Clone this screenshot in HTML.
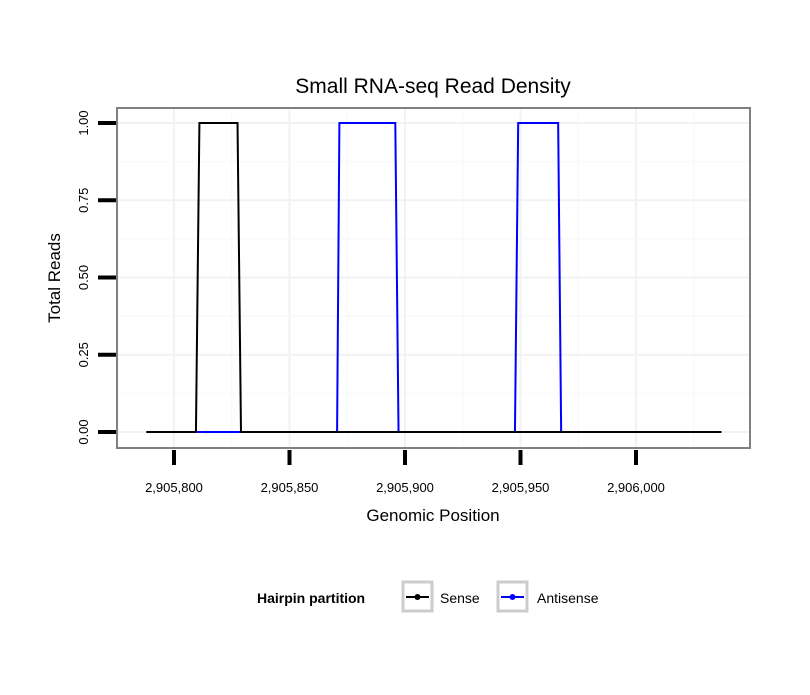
<!DOCTYPE html>
<html><head><meta charset="utf-8"><style>
body{margin:0;background:#fff;}
svg text{font-family:"Liberation Sans",sans-serif;}
</style></head><body>
<svg width="810" height="690" xmlns="http://www.w3.org/2000/svg">
<rect width="810" height="690" fill="#fff"/>
<text x="433" y="93" font-size="21" text-anchor="middle">Small RNA-seq Read Density</text>
<g id="grid"></g>
<g id="series"></g>
<rect x="117" y="108" width="633" height="340" fill="none" stroke="#808080" stroke-width="2"/>
<g id="axes"></g>
<text x="433" y="521" font-size="17" text-anchor="middle">Genomic Position</text>
<text transform="translate(60,278) rotate(-90)" font-size="17" text-anchor="middle">Total Reads</text>
<g>
<text x="257" y="603" font-size="14" font-weight="bold">Hairpin partition</text>
<g>
<rect x="403" y="582" width="29" height="29" fill="#fff" stroke="#ccc" stroke-width="3"/>
<line x1="406" y1="597" x2="429" y2="597" stroke="#000" stroke-width="2"/><circle cx="417.5" cy="597" r="3" fill="#000"/>
<text x="440" y="603" font-size="14">Sense</text></g>
<g>
<rect x="498" y="582" width="29" height="29" fill="#fff" stroke="#ccc" stroke-width="3"/>
<line x1="501" y1="597" x2="524" y2="597" stroke="#00f" stroke-width="2"/><circle cx="512.5" cy="597" r="3" fill="#00f"/>
<text x="537" y="603" font-size="14">Antisense</text></g>
</g>
</svg>
<script>
const senseX=[2905788,2905809.5,2905811,2905827.5,2905829,2906037];
const senseY=[0,0,1,1,0,0];
const antiX=[2905810,2905870.6,2905871.6,2905895.8,2905897.2,2905947.6,2905949,2905966.3,2905967.6,2905990];
const antiY=[0,0,1,1,0,0,1,1,0,0];
const xTicks=[2905800,2905850,2905900,2905950,2906000];
const xTickLabels=["2,905,800","2,905,850","2,905,900","2,905,950","2,906,000"];
const yTicks=[0,0.25,0.5,0.75,1];
const yTickLabels=["0.00","0.25","0.50","0.75","1.00"];
const NS="http://www.w3.org/2000/svg";
const xs=v=>174+(v-2905800)*115.5/50;
const ys=v=>432-v*309;
function mk(t,a,p){const e=document.createElementNS(NS,t);for(const k in a)e.setAttribute(k,a[k]);p.appendChild(e);return e;}
const grid=document.getElementById('grid'),axes=document.getElementById('axes'),ser=document.getElementById('series');
for(let i=-0.5;i<=5;i+=0.5){const x=xs(2905800+i*50);if(x<118||x>749)continue;
 const l=mk('line',{x1:x,x2:x,y1:109,y2:447,stroke:i%1?'#f8f8f8':'#f2f2f2','stroke-width':i%1?1:2},grid);
 
 }
for(let i=-0.125;i<=1.2;i+=0.125){const y=ys(i);if(y<109||y>447)continue;
 const l=mk('line',{x1:118,x2:749,y1:y,y2:y,stroke:(i*8)%2?'#f8f8f8':'#f2f2f2','stroke-width':(i*8)%2?1:2},grid);
 
 }
xTicks.forEach((v,i)=>{const x=xs(v);
 const t=mk('line',{x1:x,x2:x,y1:450,y2:465,stroke:'#000','stroke-width':4},axes);
 
 
 const tx=mk('text',{x:x,y:492,'font-size':13,'text-anchor':'middle'},axes);tx.textContent=xTickLabels[i];
 
 });
yTicks.forEach((v,i)=>{const y=ys(v);
 const t=mk('line',{x1:98,x2:116,y1:y,y2:y,stroke:'#000','stroke-width':4},axes);
 
 
 const tx=mk('text',{transform:`translate(88,${y}) rotate(-90)`,'font-size':13,'text-anchor':'middle'},axes);tx.textContent=yTickLabels[i];
 
 });
function path(X,Y,c,n){const d=X.map((x,i)=>(i?'L':'M')+xs(x)+','+ys(Y[i])).join(' ');
 const p=mk('path',{d:d,fill:'none',stroke:c,'stroke-width':2},ser);
 
 }
path(antiX,antiY,'#00f','antisense-line');
path(senseX,senseY,'#000','sense-line');
</script>
</body></html>
